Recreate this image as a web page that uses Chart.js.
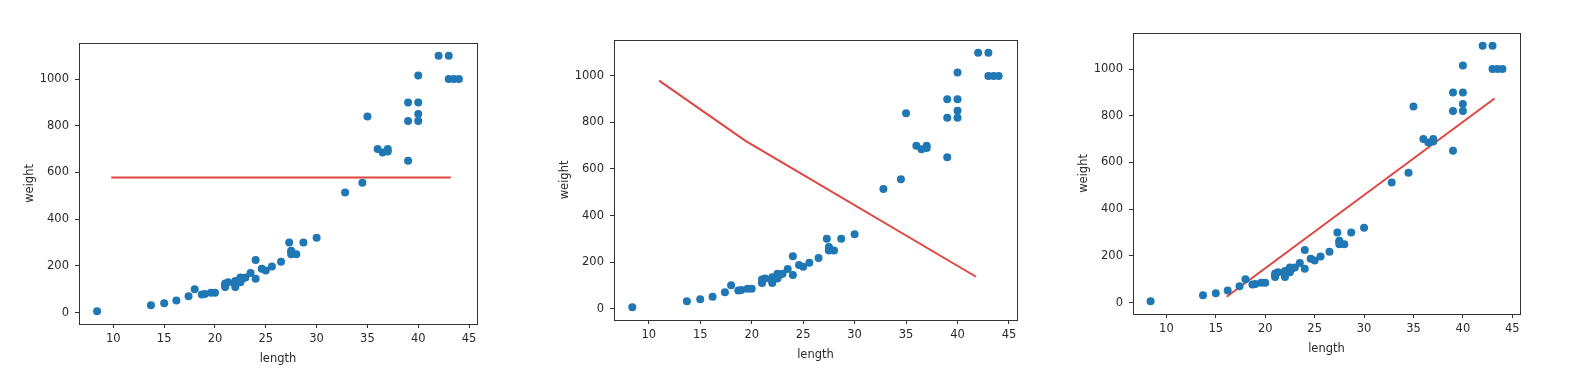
<!DOCTYPE html>
<html>
<head>
<meta charset="utf-8">
<script src="https://cdn.jsdelivr.net/npm/chart.js@4/dist/chart.umd.min.js"></script>
<style>
  body { margin: 0; background: #fff; width: 1584px; height: 388px; overflow: hidden; position: relative; }
  .box { position: absolute; }
</style>
</head>
<body>
<div class="box" id="b1" style="left:23px;top:30px;width:458px;height:336px"><canvas id="c1"></canvas></div>
<div class="box" id="b2" style="left:558px;top:27px;width:463px;height:335px"><canvas id="c2"></canvas></div>
<div class="box" id="b3" style="left:1077px;top:20px;width:447px;height:336px"><canvas id="c3"></canvas></div>
<script>
// perch length / weight
var lengths = [8.4, 13.7, 15.0, 16.2, 17.4, 18.0, 18.7, 19.0, 19.6, 20.0, 21.0, 21.0, 21.0, 21.3, 22.0, 22.0, 22.0, 22.0, 22.0, 22.5, 22.5, 22.7, 23.0, 23.5, 24.0, 24.0, 24.6, 25.0, 25.6, 26.5, 27.3, 27.5, 27.5, 27.5, 28.0, 28.7, 30.0, 32.8, 34.5, 35.0, 36.5, 36.0, 37.0, 37.0, 39.0, 39.0, 39.0, 40.0, 40.0, 40.0, 40.0, 42.0, 43.0, 43.0, 43.5, 44.0];
var weights = [5.9, 32.0, 40.0, 51.5, 70.0, 100.0, 78.0, 80.0, 85.0, 85.0, 110.0, 115.0, 125.0, 130.0, 120.0, 120.0, 130.0, 135.0, 110.0, 130.0, 150.0, 145.0, 150.0, 170.0, 225.0, 145.0, 188.0, 180.0, 197.0, 218.0, 300.0, 260.0, 265.0, 250.0, 250.0, 300.0, 320.0, 514.0, 556.0, 840.0, 685.0, 700.0, 700.0, 690.0, 900.0, 650.0, 820.0, 850.0, 900.0, 1015.0, 820.0, 1100.0, 1000.0, 1100.0, 1000.0, 1000.0];

// red lines, one per panel
var line1X = [9.8, 43.2];
var line1Y = [578, 578];
var line2X = [11.0, 19.4, 41.8];
var line2Y = [980, 721, 137];
var line3X = [16.1, 43.2];
var line3Y = [25, 874];

var xTicks = [10, 15, 20, 25, 30, 35, 40, 45];
var yTicks = [0, 200, 400, 600, 800, 1000];

var xMin = 6.62, xMax = 45.78, yMin = -48.8, yMax = 1154.7;

var frame = {
    id: 'frame',
    afterDraw: function(chart) {
        var a = chart.chartArea, ctx = chart.ctx;
        ctx.save();
        ctx.strokeStyle = '#333';
        ctx.lineWidth = 1;
        ctx.strokeRect(Math.round(a.left) + 0.5, Math.round(a.top) + 0.5, Math.round(a.right - a.left), Math.round(a.bottom - a.top));
        ctx.restore();
    }
};

function toPoints(xs, ys) {
    return xs.map(function(x, i) { return {x: x, y: ys[i]}; });
}

function makeChart(id, lx, ly) {
    var font = {family: 'DejaVu Sans', size: 11.5};
    return new Chart(document.getElementById(id), {
        type: 'scatter',
        data: {
            datasets: [{
                data: toPoints(lengths, weights),
                backgroundColor: '#1f77b4',
                borderWidth: 0,
                pointRadius: 4
            }, {
                type: 'line',
                data: toPoints(lx, ly),
                borderColor: '#e0453f',
                borderWidth: 2,
                pointRadius: 0,
                fill: false
            }]
        },
        options: {
            responsive: true,
            maintainAspectRatio: false,
            animation: false,
            layout: { padding: {top: 4, right: 4, left: 0, bottom: 0} },
            plugins: { legend: {display: false}, tooltip: {enabled: false} },
            scales: {
                x: {
                    type: 'linear',
                    min: xMin, max: xMax,
                    afterBuildTicks: function(s) { s.ticks = xTicks.map(function(v) { return {value: v}; }); },
                    afterFit: function(s) { s.height = 42; },
                    grid: { drawOnChartArea: false, drawTicks: true, tickLength: 4, color: '#333' },
                    border: { display: false },
                    ticks: { color: '#2a2a2a', font: font, padding: 4, maxRotation: 0, callback: function(v) { return String(v); } },
                    title: { display: true, text: 'length', color: '#2a2a2a', font: font, padding: 0 }
                },
                y: {
                    type: 'linear',
                    min: yMin, max: yMax,
                    afterBuildTicks: function(s) { s.ticks = yTicks.map(function(v) { return {value: v}; }); },
                    afterFit: function(s) { s.width = 56; },
                    grid: { drawOnChartArea: false, drawTicks: true, tickLength: 4, color: '#333' },
                    border: { display: false },
                    ticks: { color: '#2a2a2a', font: font, padding: 6, callback: function(v) { return String(v); } },
                    title: { display: true, text: 'weight', color: '#2a2a2a', font: font, padding: 0 }
                }
            }
        },
        plugins: [frame]
    });
}

makeChart('c1', line1X, line1Y);
makeChart('c2', line2X, line2Y);
makeChart('c3', line3X, line3Y);
</script>
</body>
</html>
